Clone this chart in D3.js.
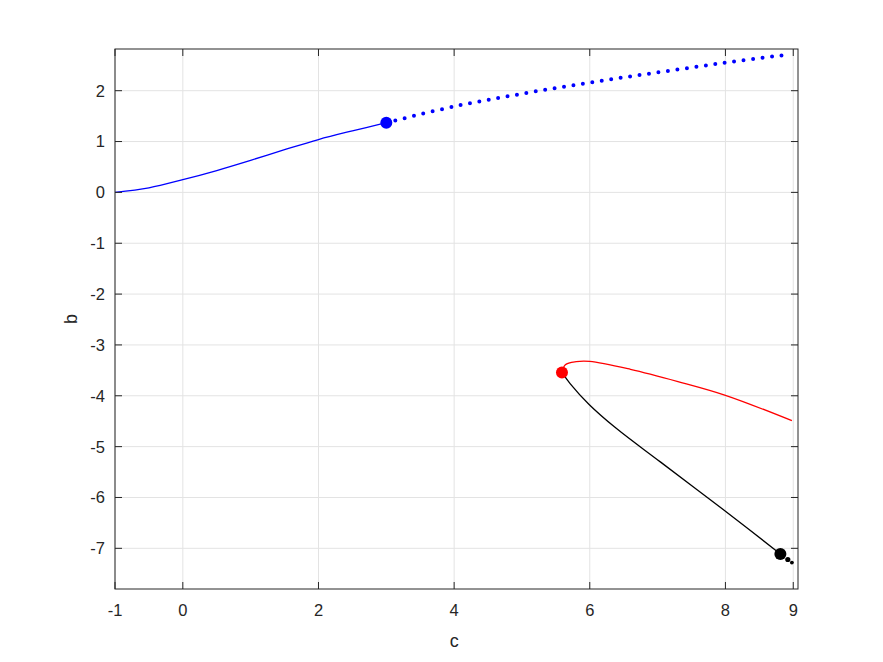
<!DOCTYPE html>
<html><head><meta charset="utf-8">
<script src="https://cdn.jsdelivr.net/npm/d3@7"></script>
<style>body{margin:0;background:#fff}svg{display:block}text{font-family:"Liberation Sans",Arial,Helvetica,sans-serif;fill:#262626}</style>
</head><body>
<script>
// Data
const xTicks = [-1, 0, 2, 4, 6, 8, 9];
const yTicks = [-7, -6, -5, -4, -3, -2, -1, 0, 1, 2];
const blueSolidC = [-1, -0.5, 0, 0.5, 1, 1.5, 2, 2.5, 3];
const blueSolidB = [0, 0.09, 0.25, 0.43, 0.63, 0.84, 1.04, 1.21, 1.37];
const blueDotC = [3, 4, 5, 6, 7, 8, 8.92];
const blueDotB = [1.37, 1.69, 1.94, 2.16, 2.36, 2.55, 2.71];
const redC = [5.59, 5.64, 5.8, 6.0, 6.6, 7.3, 8.0, 8.98];
const redB = [-3.54, -3.39, -3.33, -3.325, -3.48, -3.72, -3.99, -4.49];
const blackC = [5.59, 5.71, 5.99, 6.39, 7.04, 8.0, 8.81];
const blackB = [-3.54, -3.76, -4.17, -4.64, -5.30, -6.27, -7.11];
const markersC = [3.0, 5.59, 8.81];
const markersB = [1.37, -3.54, -7.11];
const markerColors = ["#0000ff", "#ff0000", "#000000"];
const tailC = [8.92, 8.98];
const tailB = [-7.22, -7.28];
const xDomain = [-1, 9.07];
const yDomain = [-7.8, 2.82];

const W = 883, H = 662;
const m = {l: 115, r: 85, t: 49, b: 73};
const svg = d3.select("body").append("svg").attr("width", W).attr("height", H);
const x = d3.scaleLinear().domain(xDomain).range([m.l, W - m.r]);
const y = d3.scaleLinear().domain(yDomain).range([H - m.b, m.t]);
const iw = W - m.r - m.l, ih = H - m.b - m.t;

// grid
const grid = svg.append("g").attr("stroke", "#e3e3e3").attr("stroke-width", 1);
xTicks.forEach(t => grid.append("line").attr("x1", x(t)).attr("x2", x(t)).attr("y1", m.t).attr("y2", H - m.b));
yTicks.forEach(t => grid.append("line").attr("y1", y(t)).attr("y2", y(t)).attr("x1", m.l).attr("x2", W - m.r));

const zip = (a, b) => a.map((v, i) => [v, b[i]]);
const lineC = d3.line().x(d => x(d[0])).y(d => y(d[1])).curve(d3.curveCatmullRom.alpha(0.5));

svg.append("path").attr("d", lineC(zip(blueSolidC, blueSolidB))).attr("fill", "none").attr("stroke", "#0000ff").attr("stroke-width", 1.3);
svg.append("path").attr("d", lineC(zip(blueDotC, blueDotB))).attr("fill", "none").attr("stroke", "#0000ff").attr("stroke-width", 4).attr("stroke-linecap", "round").attr("stroke-dasharray", "0 9.55").attr("stroke-dashoffset", -9.5);
svg.append("path").attr("d", lineC(zip(redC, redB))).attr("fill", "none").attr("stroke", "#ff0000").attr("stroke-width", 1.3);
svg.append("path").attr("d", lineC(zip(blackC, blackB))).attr("fill", "none").attr("stroke", "#000000").attr("stroke-width", 1.3);

svg.selectAll("circle.m").data(zip(markersC, markersB)).enter().append("circle")
  .attr("cx", d => x(d[0])).attr("cy", d => y(d[1])).attr("r", 6).attr("fill", (d, i) => markerColors[i]);
const tailR = [2.6, 1.9];
svg.selectAll("circle.t").data(zip(tailC, tailB)).enter().append("circle")
  .attr("cx", d => x(d[0])).attr("cy", d => y(d[1])).attr("r", (d, i) => tailR[i]).attr("fill", "#000");

// axes (box with inward ticks)
const tl = 7;
const ax = svg.append("g").attr("stroke", "#262626").attr("stroke-width", 1);
ax.append("rect").attr("x", m.l).attr("y", m.t).attr("width", iw).attr("height", ih).attr("fill", "none");
xTicks.forEach(t => {
  ax.append("line").attr("x1", x(t)).attr("x2", x(t)).attr("y1", H - m.b).attr("y2", H - m.b - tl);
  ax.append("line").attr("x1", x(t)).attr("x2", x(t)).attr("y1", m.t).attr("y2", m.t + tl);
});
yTicks.forEach(t => {
  ax.append("line").attr("y1", y(t)).attr("y2", y(t)).attr("x1", m.l).attr("x2", m.l + tl);
  ax.append("line").attr("y1", y(t)).attr("y2", y(t)).attr("x1", W - m.r).attr("x2", W - m.r - tl);
});

// tick labels
xTicks.forEach(t => svg.append("text").attr("x", x(t)).attr("y", H - m.b + 27).attr("text-anchor", "middle")
  .attr("font-size", 16.5).text(t));
yTicks.forEach(t => svg.append("text").attr("x", m.l - 10).attr("y", y(t)).attr("dy", "0.36em").attr("text-anchor", "end")
  .attr("font-size", 16.5).text(t));

svg.append("text").attr("x", x(4)).attr("y", 647).attr("text-anchor", "middle").attr("font-size", 18).text("c");
svg.append("text").attr("transform", `translate(77,${(m.t + H - m.b) / 2}) rotate(-90)`).attr("text-anchor", "middle").attr("font-size", 18).text("b");
</script>
</body></html>
